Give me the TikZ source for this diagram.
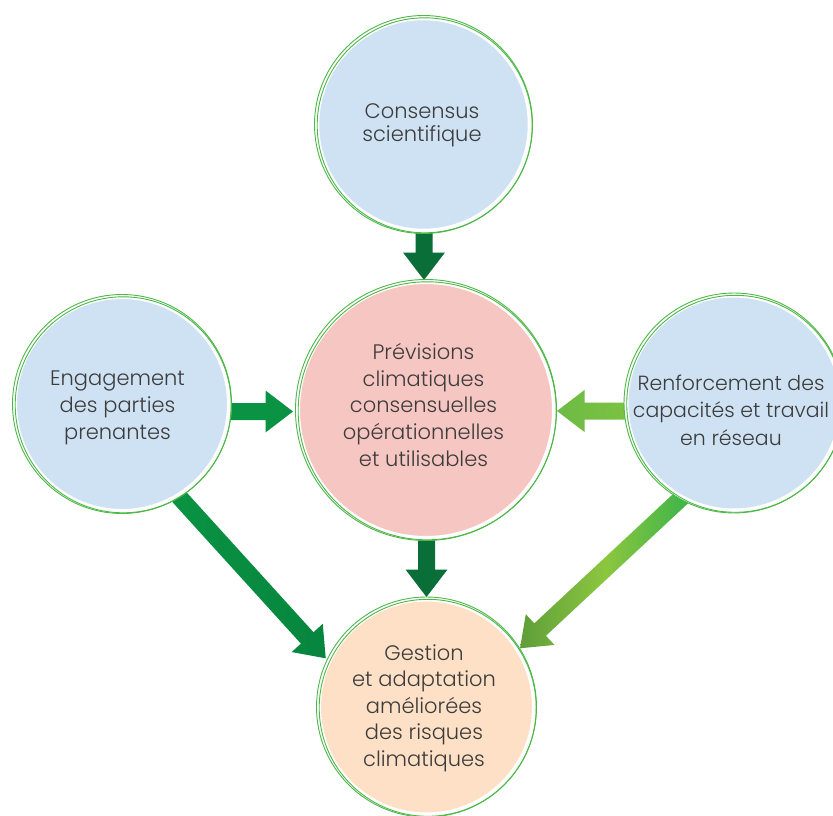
\documentclass[tikz,border=0pt]{standalone}
\usepackage{fontspec}
\setmainfont{Poppins Light}
\usetikzlibrary{calc,backgrounds}
\definecolor{ringgreen}{HTML}{4DB848}
\definecolor{bluefill}{HTML}{CFE2F3}
\definecolor{pinkfill}{HTML}{F6C6C2}
\definecolor{peachfill}{HTML}{FDE0C5}
\definecolor{textgray}{HTML}{3C3C3C}
\definecolor{darkgreen}{HTML}{0A6E38}
\definecolor{midgreen}{HTML}{0A9343}
\definecolor{midgreendark}{HTML}{06853E}
\definecolor{lightA}{HTML}{6DBB45}
\definecolor{lightB}{HTML}{7DC242}
\definecolor{oliveg}{HTML}{5E9E3A}
\definecolor{yellowg}{HTML}{8CC63F}
\definecolor{brightg}{HTML}{3BB44A}
\tikzset{
  bubble/.style={circle, inner sep=0pt, outer sep=0pt, draw=white, line width=4.5pt},
  ring/.style={draw=ringgreen, line width=0.9pt},
  lbl/.style={font=\fontsize{21}{26.7}\selectfont, text=textgray, align=center, inner sep=0pt},
}
% #1 path command options, #2 tail coordinate, #3 tip coordinate
\newcommand\fatarrow[3]{%
  \coordinate (tmpB) at ($(#3)!27.5pt!(#2)$);
  \path[#1] ($(#2)!8.5pt!90:(#3)$) -- ($(tmpB)!8.5pt!90:(#3)$) -- ($(tmpB)!21pt!90:(#3)$)
     -- (#3) -- ($(tmpB)!21pt!-90:(#3)$) -- ($(tmpB)!8.5pt!-90:(#3)$) -- ($(#2)!8.5pt!-90:(#3)$) -- cycle;
}
\begin{document}
\begin{tikzpicture}[x=1pt,y=-1pt]
\useasboundingbox (0,0) rectangle (833,816);

% circles
\node[bubble, fill=bluefill, minimum size=213pt] (top) at (423.5,124.5) {};
\draw[ring] (top.center) circle[radius=109];
\draw[ring] ($(top.center)+(1.2,0.8)$) circle[radius=107.5];

\node[bubble, fill=pinkfill, minimum size=256.5pt] (mid) at (426,410) {};
\draw[ring] (mid.center) circle[radius=130.5];
\draw[ring] ($(mid.center)+(1.2,0.8)$) circle[radius=129];

\node[bubble, fill=bluefill, minimum size=214.5pt] (left) at (122,404) {};
\draw[ring] (left.center) circle[radius=109.5];
\draw[ring] ($(left.center)+(1.2,0.8)$) circle[radius=108];

\node[bubble, fill=bluefill, minimum size=215.5pt] (right) at (734,403) {};
\draw[ring] (right.center) circle[radius=110];
\draw[ring] ($(right.center)+(1.2,0.8)$) circle[radius=108.5];

\node[bubble, fill=peachfill, minimum size=215.5pt] (bot) at (426.5,707) {};
\draw[ring] (bot.center) circle[radius=110];
\draw[ring] ($(bot.center)+(1.2,0.8)$) circle[radius=108.5];

% texts
\node[lbl, font=\fontsize{21}{23.5}\selectfont] (topt) at (422,125.5) {Consensus\\scientifique};
\node[lbl] (midt) at (423.5,405) {Prévisions\\climatiques\\consensuelles\\opérationnelles\\et utilisables};
\node[lbl, font=\fontsize{21}{27}\selectfont] (leftt) at (117.5,408) {Engagement\\des parties\\prenantes};
\node[lbl, font=\fontsize{20.5}{27.5}\selectfont] (rightt) at (731,410) {Renforcement des\\capacités et travail\\en réseau};
\node[lbl, font=\fontsize{21}{26.5}\selectfont] (bott) at (424,708) {Gestion\\et adaptation\\améliorées\\des risques\\climatiques};

% arrow end points
\coordinate (a1s) at (424,222);   \coordinate (a1e) at (424,280);
\coordinate (a2s) at (426.5,530); \coordinate (a2e) at (426.5,597);
\coordinate (a3s) at (222,411.5); \coordinate (a3e) at (293,411.5);
\coordinate (a4s) at (632,411);   \coordinate (a4e) at (557,411);
\coordinate (a5s) at (172.3,489.3); \coordinate (a5e) at (325.7,658.3);
\coordinate (a6s) at (684.3,495.2); \coordinate (a6e) at (520,648.3);

\begin{pgfonlayer}{background}
  \fill[white] (0,0) rectangle (833,816);
  \fatarrow{fill=darkgreen}{a1s}{a1e}
  \fatarrow{fill=darkgreen}{a2s}{a2e}
  \fatarrow{fill=midgreen}{a3s}{a3e}
  \fatarrow{left color=lightA, right color=lightB, shade}{a4s}{a4e}
  \fatarrow{left color=midgreen, right color=midgreendark, shade}{a5s}{a5e}
  \fatarrow{left color=oliveg, right color=brightg, middle color=yellowg, shade}{a6s}{a6e}
\end{pgfonlayer}
\end{tikzpicture}
\end{document}
